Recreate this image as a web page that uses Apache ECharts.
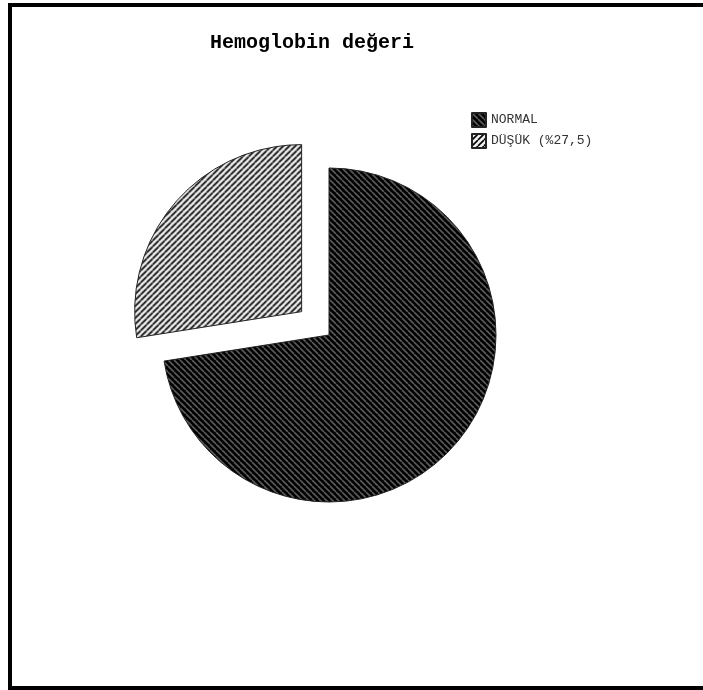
<!DOCTYPE html>
<html>
<head>
<meta charset="utf-8">
<script src="https://cdn.jsdelivr.net/npm/echarts@6/dist/echarts.min.js"></script>
<style>
  html, body { margin: 0; padding: 0; background: #fff; }
  #chart { width: 703px; height: 690px; }
</style>
</head>
<body>
<div id="chart"></div>
<script>
// Hemoglobin level distribution
const titleText = 'Hemoglobin değeri';
const categories = ['NORMAL', 'DÜŞÜK (%27,5)'];
const shares = [72.5, 27.5];

// Hatch fills: dark back-slash hatch and light forward-slash hatch
function hatch(bg, fg, dir, lw) {
  const s = 6;
  const c = document.createElement('canvas');
  c.width = s; c.height = s;
  const g = c.getContext('2d');
  g.fillStyle = bg;
  g.fillRect(0, 0, s, s);
  g.strokeStyle = fg;
  g.lineWidth = lw;
  g.beginPath();
  for (let k = -1; k <= 1; k++) {
    if (dir > 0) {           // "/" lines
      g.moveTo(k * s, s); g.lineTo(k * s + s, 0);
    } else {                 // "\" lines
      g.moveTo(k * s, 0); g.lineTo(k * s + s, s);
    }
  }
  g.stroke();
  return { image: c, repeat: 'repeat' };
}
const fills = [
  hatch('#000000', '#5a5a5a', -1, 1.6),
  hatch('#eeeeee', '#000000', 1, 1.6)
];

const chart = echarts.init(document.getElementById('chart'), null, { renderer: 'canvas' });
chart.setOption({
  animation: false,
  backgroundColor: '#ffffff',
  title: {
    text: titleText,
    left: 205,
    top: 28,
    textStyle: {
      fontFamily: 'Liberation Mono',
      fontWeight: 'bold',
      fontSize: 20,
      color: '#000'
    }
  },
  legend: {
    orient: 'vertical',
    left: 471,
    top: 112,
    padding: 0,
    itemWidth: 14,
    itemHeight: 14,
    itemGap: 5,
    icon: 'rect',
    selectedMode: false,
    textStyle: {
      fontFamily: 'Liberation Mono',
      fontSize: 13,
      color: '#333'
    },
    data: categories
  },
  graphic: [
    { type: 'rect', shape: { x: 8, y: 3, width: 695, height: 4 }, style: { fill: '#000' } },
    { type: 'rect', shape: { x: 8, y: 3, width: 4, height: 687 }, style: { fill: '#000' } },
    { type: 'rect', shape: { x: 8, y: 686, width: 695, height: 4 }, style: { fill: '#000' } }
  ],
  series: [{
    type: 'pie',
    center: [329, 335],
    radius: 167,
    startAngle: 90,
    clockwise: true,
    selectedMode: 'single',
    selectedOffset: 36,
    label: { show: false },
    labelLine: { show: false },
    emphasis: { disabled: true },
    itemStyle: { borderColor: '#222', borderWidth: 1 },
    data: categories.map((name, i) => ({
      name: name,
      value: shares[i],
      selected: i === 1,
      itemStyle: { color: fills[i] }
    }))
  }]
});
</script>
</body>
</html>
